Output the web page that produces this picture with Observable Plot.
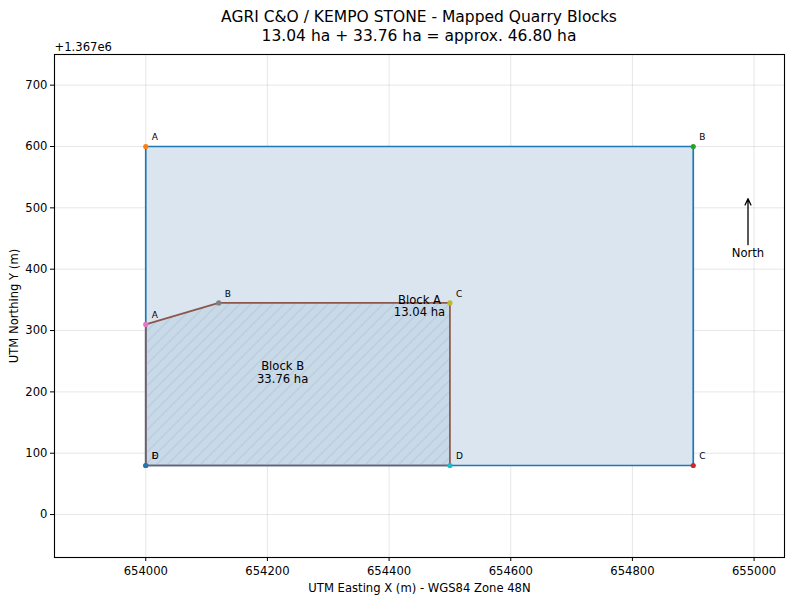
<!DOCTYPE html>
<html>
<head>
<meta charset="utf-8">
<script src="https://cdn.jsdelivr.net/npm/d3@7"></script>
<script src="https://cdn.jsdelivr.net/npm/@observablehq/plot@0.6"></script>
<style>
  body { margin: 0; background: #fff; font-family: "DejaVu Sans", sans-serif; overflow: hidden; }
  #title { box-sizing: border-box; height: 48px; width: 800px; padding-top: 8px; padding-left: 38px;
           font-size: 15.5px; line-height: 19.4px; text-align: center; color: #000; white-space: nowrap; }
</style>
</head>
<body>
<div id="title"><div>AGRI C&amp;O / KEMPO STONE - Mapped Quarry Blocks</div><div>13.04 ha + 33.76 ha = approx. 46.80 ha</div></div>
<div id="chart"></div>
<script>
// ---- data (UTM WGS84 Zone 48N) ----
const outerX = [654000, 654900, 654900, 654000];
const outerY = [1367600, 1367600, 1367080, 1367080];
const outerLabels = ["A", "B", "C", "D"];
const outerColors = ["#ff7f0e", "#2ca02c", "#d62728", "#9467bd"];

const innerX = [654000, 654120, 654500, 654500, 654000];
const innerY = [1367310, 1367345, 1367345, 1367080, 1367080];
const innerLabels = ["A", "B", "C", "D", "E"];
const innerColors = ["#e377c2", "#7f7f7f", "#bcbd22", "#17becf", "#1f77b4"];

const blockLabels = ["Block A\n13.04 ha", "Block B\n33.76 ha"];
const blockLabelX = [654450, 654225];
const blockLabelY = [1367340, 1367232];

const northX = 654990, northY1 = 1367440, northY2 = 1367515, northTextY = 1367426;

const xTicks = [654000, 654200, 654400, 654600, 654800, 655000];
const yTicks = [1367000, 1367100, 1367200, 1367300, 1367400, 1367500, 1367600, 1367700];
const yOffset = 1367000;

// ---- tables built from arrays ----
const outer = outerX.map((x, i) => ({x, y: outerY[i], label: outerLabels[i], color: outerColors[i]}));
const inner = innerX.map((x, i) => ({x, y: innerY[i], label: innerLabels[i], color: innerColors[i]}));
const outerClosed = [...outer, outer[0]];
const innerClosed = [...inner, inner[0]];
const blocks = blockLabels.map((t, i) => ({t, x: blockLabelX[i], y: blockLabelY[i]}));

const hatchDefs = () => {
  const defs = d3.create("svg:defs");
  const p = defs.append("pattern").attr("id", "hatchB")
    .attr("patternUnits", "userSpaceOnUse").attr("width", 11).attr("height", 11);
  p.append("path").attr("d", "M-1,1 L1,-1 M0,11 L11,0 M10,12 L12,10")
    .attr("stroke", "#a8bad0").attr("stroke-width", 0.8).attr("fill", "none");
  return defs.node();
};

const chart = Plot.plot({
  width: 800,
  height: 552,
  marginTop: 6,
  marginBottom: 43,
  marginLeft: 54,
  marginRight: 16,
  style: {fontFamily: "DejaVu Sans", fontSize: "11.6px", color: "#000", background: "#fff", overflow: "visible"},
  x: {domain: [653850, 655050]},
  y: {domain: [1366930, 1367750]},
  marks: [
    Plot.gridX(xTicks, {stroke: "#b0b0b0", strokeOpacity: 0.3, strokeWidth: 1}),
    Plot.gridY(yTicks, {stroke: "#b0b0b0", strokeOpacity: 0.3, strokeWidth: 1}),
    hatchDefs,
    // outer block
    Plot.line(outerClosed, {x: "x", y: "y", fill: "#dae5f0", stroke: "none"}),
    Plot.line(outerClosed, {x: "x", y: "y", stroke: "#1f77b4", strokeWidth: 1.7}),
    Plot.dot(outer, {x: "x", y: "y", r: 2.6, fill: "color", stroke: "none"}),
    // inner block
    Plot.line(innerClosed, {x: "x", y: "y", fill: "#4682b4", fillOpacity: 0.12, stroke: "none"}),
    Plot.line(innerClosed, {x: "x", y: "y", fill: "url(#hatchB)", stroke: "none"}),
    Plot.line(innerClosed, {x: "x", y: "y", stroke: "#8c564b", strokeWidth: 1.7}),
    Plot.dot(inner, {x: "x", y: "y", r: 2.6, fill: "color", stroke: "none"}),
    // vertex labels
    Plot.text(outer, {x: "x", y: "y", text: "label", dx: 6, dy: -9, textAnchor: "start", fontSize: 9, fill: "#000"}),
    Plot.text(inner, {x: "x", y: "y", text: "label", dx: 6, dy: -9, textAnchor: "start", fontSize: 9, fill: "#000"}),
    // block labels
    Plot.text(blocks, {x: "x", y: "y", text: "t", lineHeight: 1.1, fontSize: 11.6, fill: "#000"}),
    // north arrow
    Plot.arrow([0], {x1: () => northX, y1: () => northY1, x2: () => northX, y2: () => northY2,
      stroke: "#000", strokeWidth: 1.3, headLength: 8, headAngle: 50}),
    Plot.text([0], {x: () => northX, y: () => northTextY, text: () => "North", fontSize: 11.6, fill: "#000"}),
    Plot.frame({stroke: "#000", strokeWidth: 1.1}),
    Plot.axisX(xTicks, {tickSize: 4, tickPadding: 5, tickFormat: d => String(d), label: null, fontSize: 11.6}),
    Plot.axisY(yTicks, {tickSize: 4, tickPadding: 3, tickFormat: d => String(d - yOffset), label: null, fontSize: 11.6}),
    Plot.text([0], {frameAnchor: "bottom", dy: 31, lineAnchor: "middle", text: () => "UTM Easting X (m) - WGS84 Zone 48N", fontSize: 11.6, fill: "#000"}),
    Plot.text([0], {frameAnchor: "left", dx: -40, rotate: -90, textAnchor: "middle", lineAnchor: "middle", text: () => "UTM Northing Y (m)", fontSize: 11.6, fill: "#000"}),
    Plot.text([0], {frameAnchor: "top-left", dy: -7, textAnchor: "start", lineAnchor: "middle", text: () => "+1.367e6", fontSize: 11.6, fill: "#000"})
  ]
});
document.getElementById("chart").appendChild(chart);
</script>
</body>
</html>
